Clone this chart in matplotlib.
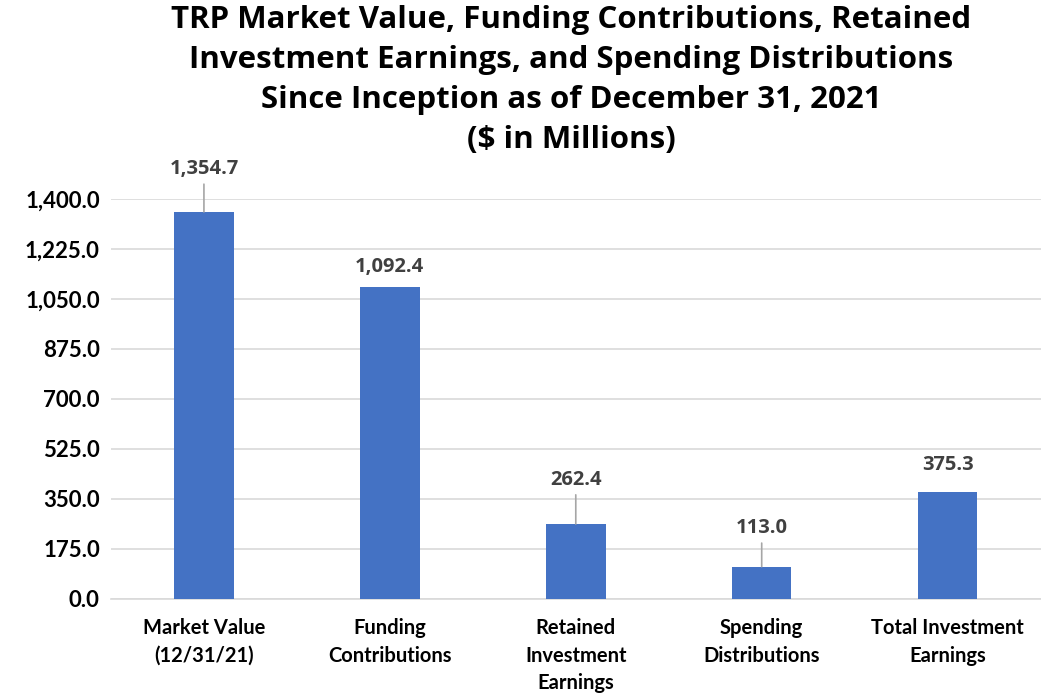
import matplotlib.pyplot as plt
from matplotlib.ticker import FuncFormatter

# data
categories = ['Market Value\n(12/31/21)', 'Funding\nContributions',
              'Retained\nInvestment\nEarnings', 'Spending\nDistributions',
              'Total Investment\nEarnings']
values = [1354.7, 1092.4, 262.4, 113.0, 375.3]
yticks = [0, 175, 350, 525, 700, 875, 1050, 1225, 1400]

# label offsets above bar tops (points) and whether a leader line is drawn
label_offsets = [31, 14, 32, 28, 19]
leaders = [True, False, True, True, False]

fig = plt.figure(figsize=(10.41, 6.96), dpi=100)
ax = fig.add_axes([0.1066, 0.1394, 0.893, 0.5747])

x = range(len(values))
ax.bar(x, values, width=0.32, color='#4472c4', zorder=3)

ax.set_xlim(-0.5, len(values) - 0.5)
ax.set_ylim(0, 1400)
ax.set_yticks(yticks)
ax.yaxis.set_major_formatter(FuncFormatter(lambda v, p: '{:,.1f}'.format(v)))
ax.grid(axis='y', color='#d9d9d9', linewidth=1.2, zorder=0)
for s in ['top', 'right', 'left']:
    ax.spines[s].set_visible(False)
ax.spines['bottom'].set_color('#d9d9d9')
ax.spines['bottom'].set_linewidth(1.2)
ax.tick_params(axis='both', length=0)
ax.tick_params(axis='y', pad=8)
ax.tick_params(axis='x', pad=14)
ax.set_xticks(list(x))
ax.set_xticklabels(categories, fontsize=14.5, fontweight='bold', family='Lato',
                   linespacing=1.45)
for t in ax.get_yticklabels():
    t.set_fontsize(16)
    t.set_fontweight('bold')
    t.set_family('Lato')

# value labels
for i, v in enumerate(values):
    off = label_offsets[i]
    ax.annotate('{:,.1f}'.format(v), xy=(i, v), xytext=(0, off),
                textcoords='offset points', ha='center', va='center',
                fontsize=14.5, color='#404040', fontweight='bold',
                family='Open Sans', annotation_clip=False)
    if leaders[i]:
        ax.annotate('', xy=(i, v), xytext=(0, off - 11),
                    textcoords='offset points',
                    arrowprops=dict(arrowstyle='-', color='#a6a6a6', lw=1.2,
                                    shrinkA=0, shrinkB=0),
                    annotation_clip=False)

fig.text(0.549, 0.993,
         'TRP Market Value, Funding Contributions, Retained\n'
         'Investment Earnings, and Spending Distributions\n'
         'Since Inception as of December 31, 2021\n'
         '($ in Millions)',
         ha='center', va='top', fontsize=22.5, fontweight='bold',
         family='Open Sans', linespacing=1.44)

plt.savefig('out.png', dpi=100)
